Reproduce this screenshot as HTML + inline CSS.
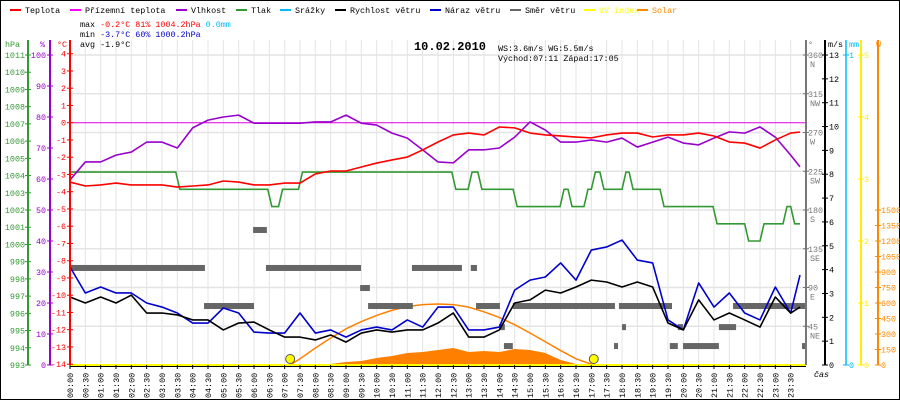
<!DOCTYPE html>
<html><head><meta charset="utf-8">
<style>
html,body{margin:0;padding:0;background:#fff;}
svg{display:block;font-family:"Liberation Mono",monospace;}
</style></head>
<body>
<svg id="chart" width="900" height="400" viewBox="0 0 900 400" xmlns="http://www.w3.org/2000/svg">
<rect x="0.5" y="0.5" width="899" height="399" fill="#fff" stroke="#000"/>
<g id="grid"></g>
<g id="series"></g>
<g id="axes"></g>
<g font-size="8.4">
  <g><rect x="10" y="9" width="11" height="2" fill="#f00"/><text x="25" y="13">Teplota</text></g>
  <g><rect x="70" y="9" width="11" height="2" fill="#f0f"/><text x="85" y="13">Přízemní teplota</text></g>
  <g><rect x="176" y="9" width="11" height="2" fill="#90c"/><text x="191" y="13">Vlhkost</text></g>
  <g><rect x="236" y="9" width="11" height="2" fill="#393"/><text x="251" y="13">Tlak</text></g>
  <g><rect x="280" y="9" width="11" height="2" fill="#0bf"/><text x="295" y="13">Srážky</text></g>
  <g><rect x="335" y="9" width="11" height="2" fill="#000"/><text x="350" y="13">Rychlost větru</text></g>
  <g><rect x="430" y="9" width="11" height="2" fill="#00c"/><text x="445" y="13">Náraz větru</text></g>
  <g><rect x="510" y="9" width="11" height="2" fill="#666"/><text x="525" y="13">Směr větru</text></g>
  <g><rect x="584" y="9" width="11" height="2" fill="#ff0"/><text x="599" y="13" fill="#ff0">UV index</text></g>
  <g><rect x="637" y="9" width="11" height="2" fill="#f80"/><text x="652" y="13" fill="#f80">Solar</text></g>
</g>
<g font-size="8.4">
  <text x="80" y="27">max <tspan fill="#f00">-0.2°C  81%  1004.2hPa</tspan>   <tspan fill="#0bf">0.0mm</tspan></text>
  <text x="80" y="37">min <tspan fill="#00c">-3.7°C  60%  1000.2hPa</tspan></text>
  <text x="80" y="47">avg -1.9°C</text>
  <text x="498" y="51">WS:3.6m/s    WG:5.5m/s</text>
  <text x="498" y="61">Východ:07:11  Západ:17:05</text>
</g>
<text x="450" y="50" text-anchor="middle" font-size="12" font-weight="bold">10.02.2010</text>
</svg>
<script>
// ---- data ----
var humidity=[59.7,65.5,65.5,67.7,68.7,71.9,71.9,70,76.5,79,80,80.6,78,78,78,78,78.4,78.4,80.6,78,77.4,74.8,73.2,69.4,65.5,65.2,69.4,69.4,70,73.5,78.4,75.8,71.9,71.9,72.6,71.9,73.2,70.3,71.9,73.5,71.6,71,73.2,75.2,74.8,76.8,73.5,67.7,63.9];
var temperature=[-3.44,-3.67,-3.61,-3.5,-3.61,-3.61,-3.61,-3.73,-3.67,-3.61,-3.38,-3.44,-3.61,-3.61,-3.5,-3.5,-2.97,-2.8,-2.8,-2.57,-2.34,-2.16,-1.99,-1.58,-1.12,-0.71,-0.6,-0.71,-0.25,-0.3,-0.6,-0.71,-0.77,-0.83,-0.88,-0.71,-0.6,-0.6,-0.83,-0.71,-0.71,-0.6,-0.77,-1.12,-1.18,-1.47,-1.0,-0.6,-0.54];
var windSpeed=[2.85,2.6,2.85,2.6,2.93,2.18,2.18,2.1,1.89,1.89,1.47,1.76,1.8,1.47,1.17,1.17,1.05,1.26,0.96,1.34,1.47,1.38,1.47,1.47,1.76,2.18,1.17,1.17,1.47,2.6,2.73,3.14,3.02,3.27,3.56,3.48,3.27,3.48,3.27,1.76,1.47,2.73,1.89,2.18,1.89,1.59,2.85,2.18,2.43];
var windGust=[4.11,3.02,3.27,3.02,3.02,2.6,2.43,2.18,1.76,1.76,2.39,2.18,1.38,1.34,1.34,2.18,1.34,1.47,1.17,1.47,1.59,1.47,1.89,1.59,2.43,2.43,1.47,1.47,1.59,3.14,3.56,3.69,4.28,3.56,4.82,4.95,5.24,4.4,4.28,1.89,1.47,3.44,2.43,3.02,2.18,1.89,3.27,2.18,3.77];
var pressureTimes=[0,3.45,6.45,6.8,7.45,12.45,12.98,13.3,14.45,15.98,16.24,16.76,17.0,17.28,18.0,18.23,19.24,20.97,22.0,22.5,23.25,23.5];
var pressureValues=[1004.2,1003.2,1002.2,1003.2,1004.2,1003.2,1004.2,1003.2,1002.2,1003.2,1002.2,1003.2,1004.2,1003.2,1004.2,1003.2,1002.2,1001.2,1000.2,1001.2,1002.2,1001.2];
var dirStart=[0,5.97,4.37,6.39,9.46,9.72,11.15,13.07,13.24,13.99,14.15,14.44,17.74,17.9,18.0,19.56,19.82,19.99,21.16,21.62,23.87];
var dirEnd=[4.4,6.42,6.0,9.49,9.78,11.18,12.78,13.27,14.02,14.18,14.44,17.77,17.87,19.63,18.13,19.82,19.99,21.16,21.72,23.97,24];
var dirValue=[112.7,156.8,68.5,112.7,89.4,68.5,112.7,112.7,68.5,44,22,68.5,22,68.5,44,22,44,22,44,68.5,22];
var solarTimes=[8,8.5,9,9.5,10,10.5,11,11.5,12,12.5,13,13.5,14,14.5,15,15.5,16,16.5,17];
var solarValues=[0,10,29,39,68,87,116,126,145,165,126,136,126,155,145,116,48,10,0];
var clearTimes=[7.18,7.5,8,8.5,9,9.5,10,10.5,11,11.5,12,12.5,13,13.5,14,14.5,15,15.5,16,16.5,17.08];
var clearValues=[0,60,165,260,350,420,480,530,565,585,590,585,560,515,460,390,310,225,140,60,0];
var sunEvents=[7.18,17.08];
var hpaTicks=[993,994,995,996,997,998,999,1000,1001,1002,1003,1004,1005,1006,1007,1008,1009,1010,1011];
var humTicks=[0,10,20,30,40,50,60,70,80,90,100];
var tempTicks=[-14,-13,-12,-11,-10,-9,-8,-7,-6,-5,-4,-3,-2,-1,0,1,2,3,4];
var dirTicks=[45,90,135,180,225,270,315,360];
var dirNames=["NE","E","SE","S","SW","W","NW","N"];
var msTicks=[0,1,2,3,4,5,6,7,8,9,10,11,12,13];
var uvTicks=[0,1,2,3,4,5];
var wTicks=[0,150,300,450,600,750,900,1050,1200,1350,1500];
var timeLabels=["00:00","00:30","01:00","01:30","02:00","02:30","03:00","03:30","04:00","04:30","05:00","05:30","06:00","06:30","07:00","07:30","08:00","08:30","09:00","09:30","10:00","10:30","11:00","11:30","12:00","12:30","13:00","13:30","14:00","14:30","15:00","15:30","16:00","16:30","17:00","17:30","18:00","18:30","19:00","19:30","20:00","20:30","21:00","21:30","22:00","22:30","23:00","23:30"];

// ---- scales ----
var X0=70,X1=806,YT=40,YB=365,Y4=55;
function xs(h){return X0+(X1-X0)*h/24;}
function yTemp(t){return 122.7-17.25*t;}
function yHum(v){return YB-(YB-Y4)*v/100;}
function yP(p){return YB-(YB-Y4)*(p-993)/18;}
function yW(v){return YB-(YB-Y4)*v/13;}
function yDir(d){return YB-(YB-Y4)*d/360;}
function ySol(v){return YB-v*0.1033;}
function yUV(v){return YB-(YB-Y4)*v/5;}

var NS="http://www.w3.org/2000/svg";
function mk(tag,attrs,parent){var e=document.createElementNS(NS,tag);for(var k in attrs)e.setAttribute(k,attrs[k]);parent.appendChild(e);return e;}
var grid=document.getElementById('grid'),ser=document.getElementById('series'),ax=document.getElementById('axes');

for(var i=0;i<=48;i++){var gx=xs(i*0.5);
  var gl=mk('line',{x1:gx,y1:YT,x2:gx,y2:YB,stroke:'#e4e4e4','stroke-width':1},grid);
  
  }
for(var i=0;i<dirTicks.length;i++){var gy=yDir(dirTicks[i]);
  var hl=mk('line',{x1:X0,y1:gy,x2:X1,y2:gy,stroke:'#e4e4e4','stroke-width':1.5},grid);
  
  }
var zl=mk('line',{x1:X0,y1:yTemp(0),x2:X1,y2:yTemp(0),stroke:'#e000e0','stroke-width':1},grid);



var sp='M'+xs(solarTimes[0])+','+YB;
for(var i=0;i<solarTimes.length;i++)sp+=' L'+xs(solarTimes[i])+','+ySol(solarValues[i]);
sp+=' L'+xs(solarTimes[solarTimes.length-1])+','+YB+' Z';
var sa=mk('path',{d:sp,fill:'#ff8000'},ser);


var cp=[];for(var i=0;i<clearTimes.length;i++)cp.push(xs(clearTimes[i])+','+ySol(clearValues[i]));
var cl=mk('polyline',{points:cp.join(' '),fill:'none',stroke:'#ff8000','stroke-width':1.5},ser);



for(var i=0;i<dirValue.length;i++){
  var r=mk('rect',{x:xs(dirStart[i]),y:yDir(dirValue[i])-3,width:Math.max(2,xs(dirEnd[i])-xs(dirStart[i])),height:6,fill:'#666'},ser);
  
  }

function line(arr,yf,color,name,w){var p=[];for(var i=0;i<arr.length;i++){var xx=Math.min(xs(i*0.5),800);p.push(xx+','+yf(arr[i]));}
  var l=mk('polyline',{points:p.join(' '),fill:'none',stroke:color,'stroke-width':w||2,'stroke-linejoin':'round'},ser);
  
  }
var pp=[];for(var i=0;i<pressureTimes.length;i++){var tx=xs(pressureTimes[i]);
  if(i>0)pp.push(tx+','+yP(pressureValues[i-1]));
  pp.push((i>0?tx+4:tx)+','+yP(pressureValues[i]));}
pp.push('800,'+yP(pressureValues[pressureValues.length-1]));
var pl=mk('polyline',{points:pp.join(' '),fill:'none',stroke:'#339933','stroke-width':1.6},ser);


line(windGust,yW,'#0000cc','wind-gust-line',1.6);
line(windSpeed,yW,'#000','wind-speed-line',1.6);
line(humidity,yHum,'#9900cc','humidity-line',1.6);
line(temperature,yTemp,'#ff0000','temperature-line',1.6);

for(var i=0;i<sunEvents.length;i++){var c=mk('circle',{cx:xs(sunEvents[i]),cy:359,r:4.5,fill:'#ff0',stroke:'#555','stroke-width':1},ser);
  
  }

mk('rect',{x:X0,y:364,width:X1-X0,height:2,fill:'#ff0'},ax);
mk('line',{x1:X0,y1:366.5,x2:X1,y2:366.5,stroke:'#000'},ax);
for(var i=0;i<timeLabels.length;i++){var tx=xs(i*0.5);
  mk('line',{x1:tx,y1:365,x2:tx,y2:369,stroke:'#000'},ax);
  var t=mk('text',{x:0,y:0,'font-size':8.4,transform:'translate('+(tx+3)+',398) rotate(-90)'},ax);
  t.textContent=timeLabels[i];
  
  }
var cas=mk('text',{x:814,y:377,'font-size':8.4,'font-style':'italic'},ax);cas.textContent='čas';

function vaxis(x,color,ticks,yf,lx,anchor,name){
  mk('line',{x1:x,y1:YT,x2:x,y2:YB,stroke:color,'stroke-width':2},ax);
  for(var i=0;i<ticks.length;i++){var yy=yf(ticks[i]);
    mk('line',{x1:x-3,y1:yy,x2:x+3,y2:yy,stroke:color},ax);
    var t=mk('text',{x:lx,y:yy+3,'text-anchor':anchor,'font-size':8.4,fill:color},ax);
    t.textContent=ticks[i];
    
    }}
vaxis(28,'#339933',hpaTicks,yP,25,'end','hpa-tick-label');
vaxis(50,'#9900cc',humTicks,yHum,46,'end','humidity-tick-label');
vaxis(70,'#ff0000',tempTicks,yTemp,66,'end','temperature-tick-label');
vaxis(X1,'#777',dirTicks,yDir,808,'start','direction-tick-label');
for(var i=0;i<dirNames.length;i++){var t=mk('text',{x:810,y:yDir(dirTicks[i])+12,'font-size':8.4,fill:'#777'},ax);t.textContent=dirNames[i];
  
  }
vaxis(825,'#000',msTicks,yW,829,'start','wind-speed-tick-label');
mk('line',{x1:846,y1:YT,x2:846,y2:YB,stroke:'#0bf','stroke-width':1.5},ax);
mk('line',{x1:843,y1:Y4,x2:849,y2:Y4,stroke:'#0bf'},ax);mk('line',{x1:843,y1:YB,x2:849,y2:YB,stroke:'#0bf'},ax);
var m1=mk('text',{x:849,y:Y4+3,'font-size':8.4,fill:'#0bf'},ax);m1.textContent='1';
var m0=mk('text',{x:849,y:YB+3,'font-size':8.4,fill:'#0bf'},ax);m0.textContent='0';
vaxis(861,'#fe0',uvTicks,yUV,864,'start','uv-tick-label');
vaxis(878,'#f80',wTicks,ySol,881,'start','solar-tick-label');

var hdr=[[5,'hPa','#339933'],[40,'%','#9900cc'],[57,'°C','#ff0000'],[808,'°','#777'],[828,'m/s','#000'],[849,'mm','#0bf'],[876,'W','#f80']];
for(var i=0;i<hdr.length;i++){var t=mk('text',{x:hdr[i][0],y:47,'font-size':8.4,fill:hdr[i][2]},ax);t.textContent=hdr[i][1];
  
  }
</script>
</body></html>
